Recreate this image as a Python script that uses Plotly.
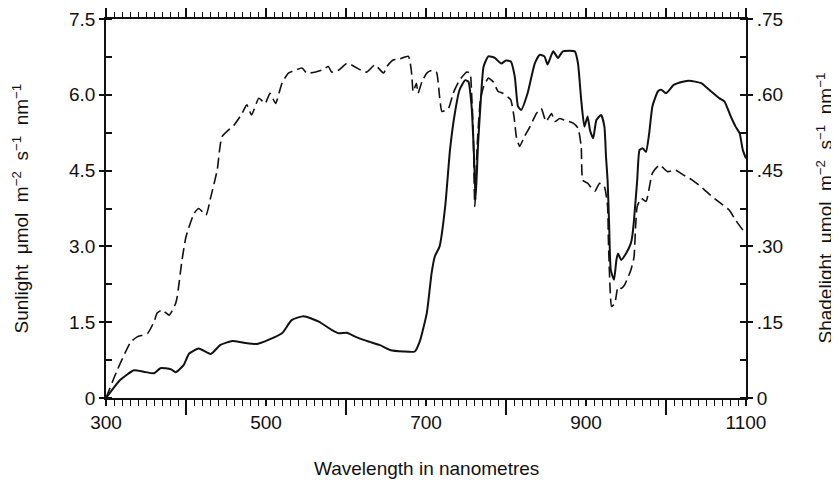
import plotly.graph_objects as go

# Sunlight (dashed) – left axis, µmol m-2 s-1 nm-1
sun_nm = [300, 314, 331, 339, 352, 360, 364, 370, 379, 387, 389, 395, 400, 410, 416, 425, 431, 439, 445, 460,
          470, 476, 482, 491, 499, 505, 512, 520, 528, 537, 545, 551, 562, 570, 578, 582, 591, 601, 607, 618,
          626, 636, 647, 651, 659, 667, 678, 682, 684, 688, 690, 695, 701, 707, 713, 717, 720, 728, 734, 742,
          751, 755, 757, 759, 761, 764, 768, 772, 778, 784, 790, 796, 802, 806, 810, 813, 817, 823, 830, 838,
          844, 850, 857, 861, 867, 873, 884, 890, 894, 896, 902, 911, 917, 923, 927, 928, 930, 932, 936, 940,
          944, 948, 956, 960, 962, 964, 969, 975, 983, 992, 1002, 1012, 1021, 1033, 1046, 1058, 1071, 1079, 1087, 1096, 1100]
sunlight = [0.0, 0.55, 1.11, 1.21, 1.28, 1.51, 1.68, 1.74, 1.64, 1.87, 2.0, 2.73, 3.19, 3.65, 3.75, 3.62, 3.98, 4.51, 5.17, 5.40,
            5.63, 5.80, 5.60, 5.93, 5.83, 6.03, 5.83, 6.23, 6.43, 6.49, 6.53, 6.43, 6.45, 6.49, 6.56, 6.45, 6.49, 6.62, 6.59, 6.49,
            6.45, 6.59, 6.43, 6.56, 6.69, 6.71, 6.76, 6.43, 6.06, 6.23, 6.03, 6.26, 6.43, 6.48, 6.45, 5.96, 5.67, 5.73, 6.03, 6.29,
            6.45, 6.43, 6.03, 5.3, 3.79, 5.0, 5.9, 6.16, 6.33, 6.26, 6.07, 6.03, 5.96, 5.90, 5.57, 5.17, 4.98, 5.17, 5.37, 5.63,
            5.73, 5.47, 5.63, 5.47, 5.53, 5.50, 5.44, 5.34, 4.98, 4.31, 4.25, 4.09, 4.25, 4.18, 3.79, 3.13, 2.20, 1.81, 1.87, 2.20,
            2.17, 2.23, 2.53, 2.79, 3.39, 3.79, 3.95, 3.89, 4.45, 4.61, 4.48, 4.51, 4.42, 4.31, 4.15, 3.98, 3.82, 3.72, 3.52, 3.33, 3.28]

# Shadelight (solid) – right axis, µmol m-2 s-1 nm-1
shade_nm = [300, 318, 335, 347, 360, 368, 381, 387, 397, 404, 416, 431, 443, 458, 474, 489, 503, 520, 532, 547,
            566, 582, 591, 601, 612, 622, 630, 642, 655, 672, 686, 692, 701, 707, 711, 717, 724, 730, 736, 742,
            749, 753, 757, 760, 762, 765, 768, 772, 778, 786, 794, 800, 806, 811, 815, 819, 827, 836, 842, 848,
            852, 859, 865, 871, 886, 890, 894, 898, 902, 905, 909, 913, 919, 923, 925, 927, 929, 931, 935, 938,
            940, 944, 950, 956, 958, 960, 964, 967, 971, 975, 979, 983, 990, 994, 1000, 1010, 1021, 1029, 1044, 1054,
            1067, 1073, 1081, 1087, 1092, 1096, 1100]
shadelight = [0.0, 0.036, 0.055, 0.052, 0.049, 0.059, 0.057, 0.051, 0.065, 0.088, 0.098, 0.087, 0.105, 0.113, 0.109, 0.107, 0.115, 0.128, 0.154, 0.162,
              0.151, 0.135, 0.128, 0.129, 0.121, 0.115, 0.111, 0.105, 0.095, 0.092, 0.092, 0.111, 0.168, 0.247, 0.280, 0.300, 0.379, 0.491, 0.563, 0.610,
              0.629, 0.626, 0.577, 0.480, 0.392, 0.500, 0.577, 0.656, 0.676, 0.673, 0.662, 0.668, 0.666, 0.636, 0.577, 0.570, 0.603, 0.662, 0.679, 0.676,
              0.660, 0.686, 0.673, 0.686, 0.686, 0.662, 0.590, 0.537, 0.557, 0.530, 0.514, 0.550, 0.560, 0.537, 0.478, 0.431, 0.339, 0.253, 0.234, 0.273,
              0.286, 0.273, 0.286, 0.306, 0.322, 0.352, 0.431, 0.491, 0.494, 0.487, 0.524, 0.577, 0.607, 0.610, 0.603, 0.620, 0.626, 0.628, 0.623, 0.610,
              0.593, 0.587, 0.557, 0.537, 0.524, 0.491, 0.474]

left_alias = {"0.0": "0"}
right_alias = {"0.00": "0", "0.15": ".15", "0.30": ".30", "0.45": ".45", "0.60": ".60", "0.75": ".75"}

FONT = "Liberation Sans, Arial, Helvetica, sans-serif"
BLACK = "#111111"
NB = "\u00a0"

fig = go.Figure()
fig.add_trace(go.Scatter(x=sun_nm, y=sunlight, mode="lines", name="Sunlight",
                         line=dict(color=BLACK, width=1.6, dash="11px,5px", shape="spline", smoothing=0.5),
                         xaxis="x", yaxis="y"))
fig.add_trace(go.Scatter(x=shade_nm, y=shadelight, mode="lines", name="Shadelight",
                         line=dict(color=BLACK, width=2, shape="spline", smoothing=0.5),
                         xaxis="x", yaxis="y2"))
# invisible helpers so the extra tick axes are rendered
fig.add_trace(go.Scatter(x=[300, 1100], y=[0, 0], mode="lines", line=dict(width=0), opacity=0,
                         hoverinfo="skip", showlegend=False, xaxis="x2", yaxis="y"))
fig.add_trace(go.Scatter(x=[300, 1100], y=[0, 0], mode="lines", line=dict(width=0), opacity=0,
                         hoverinfo="skip", showlegend=False, xaxis="x3", yaxis="y"))

# the page body has an 8px default margin, so the figure is offset by 8px
fig.update_layout(
    width=831, height=476,
    margin=dict(l=98, r=93, t=11, b=86, autoexpand=False),
    paper_bgcolor="white", plot_bgcolor="white",
    showlegend=False,
    font=dict(family=FONT, size=19, color=BLACK),
    xaxis=dict(range=[300, 1100], tickmode="linear", tick0=300, dtick=200, automargin=False,
               ticks="outside", ticklen=6, tickwidth=1.5, tickcolor=BLACK,
               showline=True, linewidth=1.8, linecolor=BLACK, showgrid=False, zeroline=False,
               minor=dict(tickmode="linear", tick0=300, dtick=10, ticks="outside", ticklen=6,
                          tickwidth=1.2, tickcolor=BLACK, showgrid=False),
               tickfont=dict(size=19)),
    xaxis2=dict(range=[300, 1100], overlaying="x", side="top", tickmode="linear", tick0=300, dtick=100,
                automargin=False,
                ticks="outside", ticklen=11, tickwidth=1.5, tickcolor=BLACK, showticklabels=False,
                showline=True, linewidth=1.8, linecolor=BLACK, showgrid=False, zeroline=False,
                minor=dict(tickmode="linear", tick0=300, dtick=10, ticks="outside", ticklen=5,
                           tickwidth=1.2, tickcolor=BLACK, showgrid=False)),
    xaxis3=dict(range=[300, 1100], overlaying="x", side="bottom", tickmode="linear", tick0=400, dtick=200,
                automargin=False,
                ticks="outside", ticklen=16, tickwidth=1.5, tickcolor=BLACK, showticklabels=False,
                showline=False, showgrid=False, zeroline=False),
    yaxis=dict(range=[0, 7.5], tickmode="linear", tick0=0, dtick=1.5, tickformat=".1f", labelalias=left_alias,
               automargin=False,
               ticks="outside", ticklen=5, tickwidth=1.5, tickcolor=BLACK,
               showline=True, linewidth=1.8, linecolor=BLACK, showgrid=False, zeroline=False,
               minor=dict(tickmode="linear", tick0=0, dtick=0.75, ticks="inside", ticklen=6,
                          tickwidth=1.5, tickcolor=BLACK, showgrid=False),
               tickfont=dict(size=19)),
    yaxis2=dict(range=[0, 0.75], overlaying="y", side="right", tickmode="linear", tick0=0, dtick=0.15,
                tickformat=".2f", labelalias=right_alias, automargin=False,
                ticks="outside", ticklen=5, tickwidth=1.5, tickcolor=BLACK,
                showline=True, linewidth=1.8, linecolor=BLACK, showgrid=False, zeroline=False,
                minor=dict(tickmode="linear", tick0=0, dtick=0.075, ticks="inside", ticklen=6,
                           tickwidth=1.5, tickcolor=BLACK, showgrid=False),
                tickfont=dict(size=19)),
)

G = NB + NB
units = (G + "\u03bcmol" + G + "m<sup>\u22122</sup>" + G + "s<sup>\u22121</sup>" + G + "nm<sup>\u22121</sup>")
fig.add_annotation(text="Sunlight" + units,
                   xref="paper", yref="paper", x=0, y=0.5, xshift=-86, textangle=-90,
                   showarrow=False, font=dict(size=19, family=FONT, color=BLACK), xanchor="center", yanchor="middle")
fig.add_annotation(text="Shadelight" + units,
                   xref="paper", yref="paper", x=1, y=0.5, xshift=78, textangle=-90,
                   showarrow=False, font=dict(size=19, family=FONT, color=BLACK), xanchor="center", yanchor="middle")
fig.add_annotation(text="Wavelength in nanometres",
                   xref="paper", yref="paper", x=0.5, y=0, yshift=-70,
                   showarrow=False, font=dict(size=19, family=FONT, color=BLACK), xanchor="center", yanchor="middle")

fig.write_html("out.html")
